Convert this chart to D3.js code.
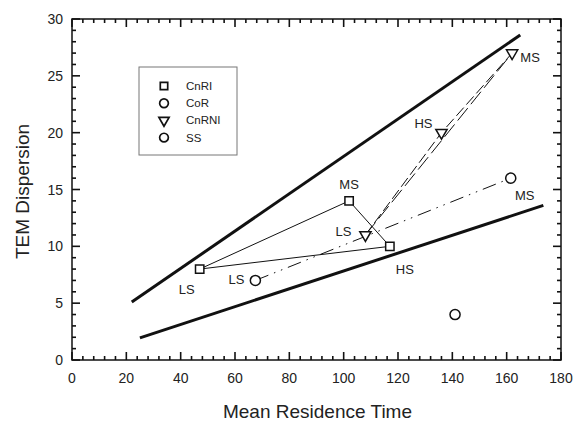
<!DOCTYPE html>
<html><head><meta charset="utf-8">
<script src="https://cdn.jsdelivr.net/npm/d3@7"></script>
<style>body{margin:0;background:#fff}svg{display:block}text{font-family:"Liberation Sans",Arial,sans-serif;fill:#222}</style>
</head><body><svg id="c" width="574" height="422"></svg>
<script>
// ---- data ----
const stageLabels = ["LS", "MS", "HS"];
const cnriX = [47, 102, 117];
const cnriY = [8, 14, 10];
const cnrniStages = ["LS", "HS", "MS"];
const cnrniX = [108, 136, 162];
const cnrniY = [11, 20, 27];
const corStages = ["LS", "MS"];
const corX = [67.5, 161.5];
const corY = [7, 16];
const ssX = [141];
const ssY = [4];
const upperBoundX = [22, 165];
const upperBoundY = [5.1, 28.6];
const lowerBoundX = [25, 173.5];
const lowerBoundY = [1.95, 13.6];
const xTicks = [0, 20, 40, 60, 80, 100, 120, 140, 160, 180];
const yTicks = [0, 5, 10, 15, 20, 25, 30];
const legendNames = ["CnRI", "CoR", "CnRNI", "SS"];

const svg = d3.select("#c");
const L = 72, R = 561, T = 19, B = 360;
const x = d3.scaleLinear().domain([0, 180]).range([L, R]);
const y = d3.scaleLinear().domain([0, 30]).range([B, T]);
const ink = "#111";

// ticks (inward, on all four sides)
const xMinor = d3.range(0, 180.001, 4).filter(v => v % 20 !== 0);
const yMinor = d3.range(0, 30.001, 1).filter(v => v % 5 !== 0);
const MJ = 8, MN = 4;
const tickData = [];
xTicks.forEach(v => { tickData.push({x1: x(v), x2: x(v), y1: B, y2: B - MJ}); tickData.push({x1: x(v), x2: x(v), y1: T, y2: T + MJ}); });
xMinor.forEach(v => { tickData.push({x1: x(v), x2: x(v), y1: B, y2: B - MN}); tickData.push({x1: x(v), x2: x(v), y1: T, y2: T + MN}); });
yTicks.forEach(v => { tickData.push({x1: L, x2: L + MJ, y1: y(v), y2: y(v)}); tickData.push({x1: R, x2: R - MJ, y1: y(v), y2: y(v)}); });
yMinor.forEach(v => { tickData.push({x1: L, x2: L + MN, y1: y(v), y2: y(v)}); tickData.push({x1: R, x2: R - MN, y1: y(v), y2: y(v)}); });
svg.append("g").selectAll("line").data(tickData).join("line")
  .attr("x1", d => d.x1).attr("x2", d => d.x2).attr("y1", d => d.y1).attr("y2", d => d.y2)
  .style("stroke", ink).style("stroke-width", "1.6px");

svg.append("g").selectAll("text").data(xTicks).join("text")
  .attr("x", d => x(d)).attr("y", B + 18).attr("text-anchor", "middle").attr("dominant-baseline", "central")
  .attr("font-size", 14).text(d => d);
svg.append("g").selectAll("text").data(yTicks).join("text")
  .attr("x", L - 9).attr("y", d => y(d)).attr("text-anchor", "end").attr("dominant-baseline", "central")
  .attr("font-size", 14).text(d => d);

svg.append("rect").attr("x", L).attr("y", T).attr("width", R - L).attr("height", B - T)
  .attr("fill", "none").attr("stroke", ink).attr("stroke-width", 1.5);

// axis titles
svg.append("text").attr("x", (L + R) / 2 + 1).attr("y", 418).attr("text-anchor", "middle")
  .attr("font-size", 19).text("Mean Residence Time");
svg.append("text").attr("transform", `translate(29,${(T + B) / 2 + 2}) rotate(-90)`)
  .attr("text-anchor", "middle").attr("font-size", 19).text("TEM Dispersion");

// bound lines
const line = d3.line().x(d => x(d[0])).y(d => y(d[1]));
svg.append("path").datum(d3.zip(upperBoundX, upperBoundY)).attr("d", line)
  .attr("stroke", ink).attr("stroke-width", 3).attr("fill", "none");
svg.append("path").datum(d3.zip(lowerBoundX, lowerBoundY)).attr("d", line)
  .attr("stroke", ink).attr("stroke-width", 3).attr("fill", "none");

// CnRI triangle (solid thin)
const cnri = d3.zip(cnriX, cnriY);
svg.append("path").datum(cnri.concat([cnri[0]])).attr("d", line)
  .attr("stroke", ink).attr("stroke-width", 1).attr("fill", "none");

// CnRNI dashed (LS-HS-MS and LS-MS)
const cnrni = d3.zip(cnrniX, cnrniY);
svg.append("path").datum(cnrni).attr("d", line)
  .attr("stroke", ink).attr("stroke-width", 1).attr("fill", "none").attr("stroke-dasharray", "11,4");
svg.append("path").datum([cnrni[0], cnrni[2]]).attr("d", line)
  .attr("stroke", ink).attr("stroke-width", 1).attr("fill", "none").attr("stroke-dasharray", "16,5");

// CoR dash-dot-dot
const cor = d3.zip(corX, corY);
svg.append("path").datum(cor).attr("d", line)
  .attr("stroke", ink).attr("stroke-width", 1).attr("fill", "none").attr("stroke-dasharray", "14,6,1.5,6,1.5,6");

// markers
const sq = d3.symbol().type(d3.symbolSquare).size(70);
const circ = d3.symbol().type(d3.symbolCircle).size(80);
const tri = d3.symbol().type(d3.symbolTriangle).size(55);
function markers(data, sym, rot) {
  svg.append("g").selectAll("path").data(data).join("path")
    .attr("d", sym).attr("transform", d => `translate(${x(d[0])},${y(d[1])})` + (rot ? " rotate(180)" : ""))
    .attr("fill", "#fff").attr("stroke", ink).attr("stroke-width", 1.5);
}
markers(cnri, sq, false);
markers(cor, circ, false);
markers(cnrni, tri, true);
markers(d3.zip(ssX, ssY), circ, false);

// point labels
const cnriOff = [[-13, 20], [0, -16], [15, 23]];
const cnrniOff = [[-22, -3], [-18, -9], [18, 4]];
const corOff = [[-19, -1], [14, 17]];
function labels(data, names, offs) {
  svg.append("g").selectAll("text").data(data).join("text")
    .attr("x", (d, i) => x(d[0]) + offs[i][0]).attr("y", (d, i) => y(d[1]) + offs[i][1])
    .attr("text-anchor", "middle").attr("dominant-baseline", "central").attr("font-size", 13)
    .text((d, i) => names[i]);
}
labels(cnri, stageLabels, cnriOff);
labels(cnrni, cnrniStages, cnrniOff);
labels(cor, corStages, corOff);

// legend
const lg = svg.append("g");
lg.append("rect").attr("x", 139).attr("y", 67).attr("width", 98).attr("height", 88)
  .attr("fill", "#fff").attr("stroke", "#777").attr("stroke-width", 1);
const legRot = [false, false, true, false];
const smallSq = d3.symbol().type(d3.symbolSquare).size(55);
const smallCirc = d3.symbol().type(d3.symbolCircle).size(60);
const smallTri = d3.symbol().type(d3.symbolTriangle).size(45);
const legSmall = [smallSq, smallCirc, smallTri, smallCirc];
legendNames.forEach((n, i) => {
  const yy = 86 + i * 17.2;
  lg.append("path").attr("d", legSmall[i]).attr("transform", `translate(164,${yy})` + (legRot[i] ? " rotate(180)" : ""))
    .attr("fill", "#fff").attr("stroke", ink).attr("stroke-width", 1.7);
  lg.append("text").attr("x", 186).attr("y", yy).attr("dominant-baseline", "central")
    .attr("font-size", 11.5).text(n);
});
</script></body></html>
